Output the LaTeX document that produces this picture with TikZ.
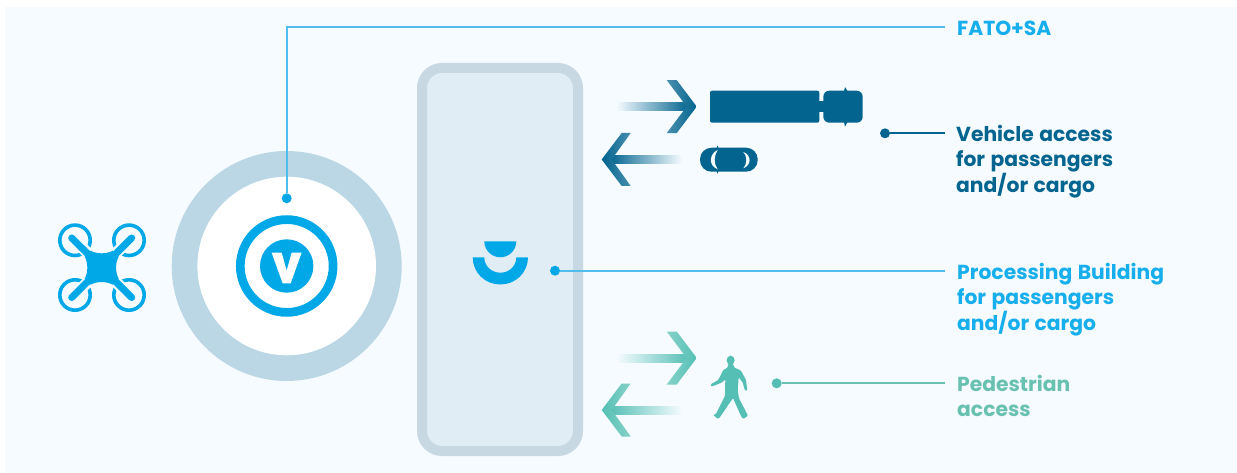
\documentclass[tikz,border=0pt]{standalone}
\usepackage{fontspec}
\setmainfont{Poppins}[WordSpace=1.25]
\definecolor{bgc}{HTML}{F5FBFF}
\definecolor{ringc}{HTML}{BBD7E6}
\definecolor{wallc}{HTML}{C7D8E3}
\definecolor{roomc}{HTML}{E0EDF5}
\definecolor{bluec}{HTML}{00A8E8}
\definecolor{bluet}{HTML}{16AEEC}
\definecolor{linec}{HTML}{4FBEEC}
\definecolor{darkc}{HTML}{02648F}
\definecolor{darkm}{HTML}{4A8FAE}
\definecolor{tealc}{HTML}{55BFB5}
\definecolor{tealm}{HTML}{86D2C9}
\definecolor{tealt}{HTML}{69C1B2}
\tikzset{
  dotmark/.style={circle,inner sep=0pt,minimum size=10pt,fill=#1},
  lead/.style={draw=#1,line width=2pt},
  lab/.style={anchor=base west,inner sep=0pt,align=left,text=#1,font=\fontsize{20.3}{25.3}\selectfont\bfseries},
  arm/.style={line width=7pt,line cap=round,draw=bluec},
  halo/.style={line width=11.5pt,draw=bgc},
  rotor/.style={line width=3.6pt,draw=bluec},
}
% right-pointing arrow: tip x, shaft y, main colour, pale colour
\newcommand\arrowRight[4]{%
  \shade[left color=bgc,right color=#3] (#1-80,#2-4) rectangle (#1-8,#2+4);
  \shade[left color=#4,right color=#3] (#1-30,#2-26.5) -- (#1-20,#2-26.5) -- (#1,#2) -- (#1-20,#2+26.5) -- (#1-30,#2+26.5) -- (#1-10,#2) -- cycle;
}
\newcommand\arrowLeft[4]{%
  \shade[right color=bgc,left color=#3] (#1+8,#2-4) rectangle (#1+80,#2+4);
  \shade[right color=#4,left color=#3] (#1+29,#2-26.5) -- (#1+20,#2-26.5) -- (#1,#2) -- (#1+20,#2+26.5) -- (#1+29,#2+26.5) -- (#1+10,#2) -- cycle;
}
\begin{document}
\begin{tikzpicture}[x=1pt,y=-1pt]
\useasboundingbox (0,0) rectangle (1237,473);
\fill[bgc] (5,7) rectangle (1237,473);

% landing pad
\fill[ringc] (286.7,266) circle[radius=115];
\fill[white] (286.7,266) circle[radius=89.3];
\draw[bluec,line width=8.7pt] (286.7,266) circle[radius=46.4];
\fill[bluec] (286.7,266) circle[radius=26.7];
\begin{scope}[shift={(30,140)},x=0.3333pt,y=-0.3333pt]
\fill[white] (725,338) -- (755,338) -- (770,392) -- (785,338) -- (815,338) -- (782,430) -- (758,430) -- cycle;
\end{scope}

% drone
\foreach \cx/\cy in {75/240.3,129/240.3,75/295,129/295}{
  \draw[rotor] (\cx,\cy) circle[radius=15.2];
  \draw[halo] (101.7,267.7) -- (\cx,\cy);
}
\foreach \ex/\ey in {71.7/238,131.7/238,71.7/297.5,131.7/297.5}{
  \draw[arm] (101.7,267.7) -- (\ex,\ey);
}
\fill[bluec,shift={(101.7,267.7)}] (-11,-17) .. controls (-5,-13.5) and (5,-13.5) .. (11,-17) -- (17,-11)
  .. controls (13.5,-5) and (13.5,5) .. (17,11) -- (11,17)
  .. controls (5,13.5) and (-5,13.5) .. (-11,17) -- (-17,11)
  .. controls (-13.5,5) and (-13.5,-5) .. (-17,-11) -- cycle;

% building
\draw[wallc,fill=roomc,line width=10pt,rounded corners=20pt] (422,68) rectangle (578,451);
\fill[bluec] (516.3,241.3) -- (484.3,241.3) .. controls (484.3,250.1) and (491.5,257.3) .. (500.3,257.3) .. controls (509.1,257.3) and (516.3,250.1) .. (516.3,241.3) -- cycle;
\fill[bluec] (472.7,257.3) -- (484.3,257.3) .. controls (484.3,266.1) and (491.5,272.7) .. (500.3,272.7) .. controls (509.1,272.7) and (516.3,266.1) .. (516.3,257.3) -- (528,257.3)
  .. controls (528,272.6) and (515.6,284.5) .. (500.3,284.5) .. controls (485,284.5) and (472.7,272.6) .. (472.7,257.3) -- cycle;

% arrows
\arrowRight{696.7}{106.6}{darkc}{darkm}
\arrowLeft{601.7}{159.5}{darkc}{darkm}
\arrowRight{696.7}{358}{tealc}{tealm}
\arrowLeft{601.7}{410}{tealc}{tealm}

% truck
\fill[darkc] (845,87) -- (847.5,91) -- (844,91) -- cycle;
\fill[darkc] (845,126.7) -- (847.5,122) -- (844,122) -- cycle;
\fill[darkc,rounded corners=2pt] (710,90.7) rectangle (819.3,122.7);
\fill[darkc] (818,101) rectangle (825,112);
\fill[darkc,rounded corners=6pt] (823.3,90.7) rectangle (862.7,122.7);

% car
\fill[darkc] (716.5,148) -- (717.5,145.5) -- (718.5,148) -- cycle;
\fill[darkc] (716.5,171) -- (717.5,173.7) -- (718.5,171) -- cycle;
\fill[darkc,rounded corners=11.5pt] (700,147.7) rectangle (757.7,171.7);
\begin{scope}[shift={(590,70)},x=0.3333pt,y=-0.3333pt]
\fill[bgc] (383,240) .. controls (360,250) and (352,285) .. (383,298) .. controls (370,280) and (372,258) .. (383,240) -- cycle;
\fill[bgc] (460,246) .. controls (485,255) and (485,285) .. (460,295) .. controls (472,282) and (472,258) .. (460,246) -- cycle;
\end{scope}

% pedestrian
\begin{scope}[shift={(590,320)},x=0.3333pt,y=-0.3333pt]
\fill[tealc] (422,121) ellipse[x radius=12,y radius=14];
\fill[tealc,rounded corners=1pt] (414,132) -- (430,132) -- (432,142) -- (453,152) -- (468,180) -- (472,212) -- (465,212) -- (458,187) -- (446,172)
  -- (443,210) -- (447,235) -- (474,287) -- (460,297) -- (454,290) -- (429,234) -- (393,287) -- (385,297) -- (369,285) -- (378,282) -- (405,228)
  -- (406,178) -- (395,188) -- (364,200) -- (362,193) -- (385,180) -- (400,150) -- (414,142) -- cycle;
\end{scope}

% labels
\node[lab=bluet] (fato) at (957,35.7) {FATO+SA};
\node[lab=darkc] (veh) at (956,192.3) {Vehicle access\\for passengers\\and/or cargo};
\node[lab=bluet] (proc) at (957,330) {Processing Building\\for passengers\\and/or cargo};
\node[lab=tealt] (ped) at (957,416.5) {Pedestrian\\access};

% connectors
\node[dotmark=bluec] (dfato) at (286.7,198.3) {};
\node[dotmark=darkc] (dveh) at (885,133.3) {};
\node[dotmark=bluec] (dproc) at (555,270.7) {};
\node[dotmark=tealc] (dped) at (776.7,383.3) {};
\coordinate (efato) at (945,27);
\coordinate (eveh) at (945,133.3);
\coordinate (eproc) at (945,270.7);
\coordinate (eped) at (945,383.3);
\draw[lead=linec] (dfato) |- (efato);
\draw[lead=darkc] (dveh) -- (eveh);
\draw[lead=linec] (dproc) -- (eproc);
\draw[lead=tealt] (dped) -- (eped);
\end{tikzpicture}
\end{document}
